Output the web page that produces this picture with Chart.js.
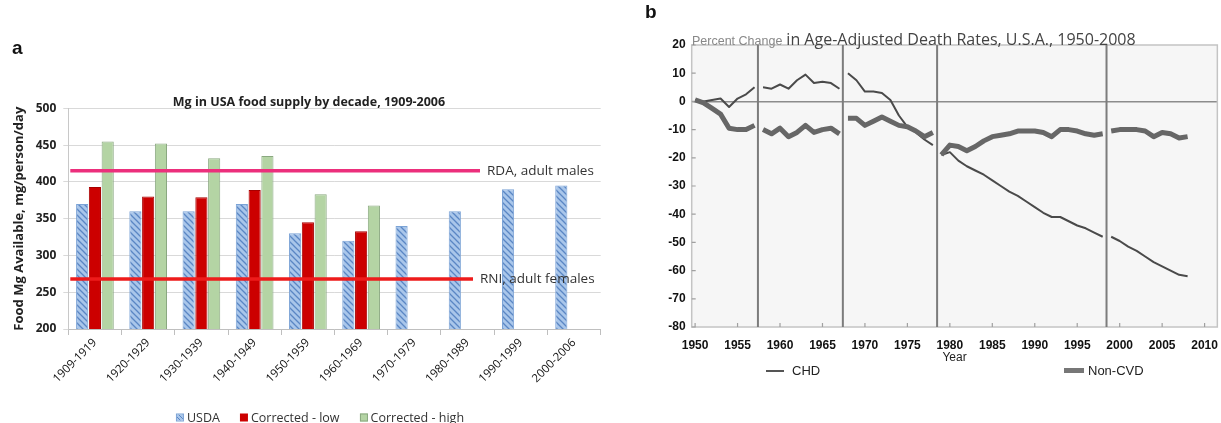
<!DOCTYPE html>
<html>
<head>
<meta charset="utf-8">
<script src="https://cdn.jsdelivr.net/npm/chart.js@4.4.1/dist/chart.umd.min.js"></script>
<style>
  html, body { margin: 0; padding: 0; background: #fff; }
  body { width: 1221px; height: 423px; position: relative; overflow: hidden; }
  canvas { position: absolute; top: 0; }
  #chartA { left: 0; }
  #chartB { left: 620px; }
  .txt { position: absolute; white-space: nowrap; line-height: 1; }
  .panel { font: bold 19px "Liberation Sans", Arial, sans-serif; color: #111; }
  #titleA { left: 309px; top: 101px; transform: translate(-50%, -50%); font: bold 12.5px "Open Sans", sans-serif; color: #222; }
  #titleB { left: 692px; top: 28px; line-height: 19px; color: #444; }
  #titleB .small { font: 12.5px "Liberation Sans", Arial, sans-serif; color: #888; }
  #titleB .big { font: 16px "Open Sans", sans-serif; }
  #legendA { left: 320px; top: 417px; transform: translate(-50%, -50%); font: 12.5px "Open Sans", sans-serif; color: #333; display: flex; align-items: center; }
  #legendA .item { display: flex; align-items: center; margin: 0 10px; }
  #legendA .sw { width: 8px; height: 8px; margin-right: 3px; box-sizing: border-box; }
  .legB { font: 13px "Liberation Sans", Arial, sans-serif; color: #222; display: flex; align-items: center; top: 363px; }
  .legB .ln { height: 0; margin-right: 8px; }
</style>
</head>
<body>
<canvas id="chartA" width="620" height="423"></canvas>
<canvas id="chartB" width="601" height="423"></canvas>

<div class="txt panel" style="left:12px; top:37px;">a</div>
<div class="txt panel" style="left:645px; top:1px;">b</div>
<div class="txt" id="titleA">Mg in USA food supply by decade, 1909-2006</div>
<div class="txt" id="titleB"><span class="small">Percent Change</span> <span class="big">in Age-Adjusted Death Rates, U.S.A., 1950-2008</span></div>

<div class="txt" id="legendA">
  <div class="item"><div class="sw" style="background: repeating-linear-gradient(45deg, #a9c6ea 0 2px, #5a86c4 2px 3px); border:1px solid #7ba3d6;"></div>USDA</div>
  <div class="item"><div class="sw" style="background:#cc0000;"></div>Corrected - low</div>
  <div class="item"><div class="sw" style="background:#b4d4a4; border:1px solid #8aa880;"></div>Corrected - high</div>
</div>

<div class="txt legB" style="left:766px;"><div class="ln" style="width:18px; border-top:2px solid #555;"></div>CHD</div>
<div class="txt legB" style="left:1064px;"><div class="ln" style="width:20px; border-top:5px solid #777; margin-right:4px;"></div>Non-CVD</div>

<script>
// ---- panel a: Mg in USA food supply ----
const decades = ['1909-1919', '1920-1929', '1930-1939', '1940-1949', '1950-1959',
                 '1960-1969', '1970-1979', '1980-1989', '1990-1999', '2000-2006'];
const usda = [370, 360, 360, 370, 330, 320, 340, 360, 390, 395];
const correctedLow = [393, 380, 379, 389, 345, 333, null, null, null, null];
const correctedHigh = [455, 452, 432, 435, 383, 368, null, null, null, null];
const rdaMales = 415;
const rniFemales = 268;

// ---- panel b: percent change in death rates ----
const years = [1950, 1951, 1952, 1953, 1954, 1955, 1956, 1957, 1958, 1959,
               1960, 1961, 1962, 1963, 1964, 1965, 1966, 1967, 1968, 1969,
               1970, 1971, 1972, 1973, 1974, 1975, 1976, 1977, 1978, 1979,
               1980, 1981, 1982, 1983, 1984, 1985, 1986, 1987, 1988, 1989,
               1990, 1991, 1992, 1993, 1994, 1995, 1996, 1997, 1998, 1999,
               2000, 2001, 2002, 2003, 2004, 2005, 2006, 2007, 2008];
const chd = [0.5, 0, 0.5, 1, -2, 1, 2.5, 5, 5, 4.5,
             6, 4.5, 7.5, 9.5, 6.5, 7, 6.5, 4.5, 10, 7.5,
             3.5, 3.5, 3, 0.5, -5, -9, -11, -13.5, -15.5, -19,
             -18, -21, -23, -24.5, -26, -28, -30, -32, -33.5, -35.5,
             -37.5, -39.5, -41, -41, -42.5, -44, -45, -46.5, -48, -48,
             -49.5, -51.5, -53, -55, -57, -58.5, -60, -61.5, -62];
const nonCvd = [0.5, -0.5, -2.5, -4.5, -9.5, -10, -10, -8.5, -10, -11.5,
                -9.5, -12.5, -11, -8.5, -11, -10, -9.5, -11.5, -6, -6,
                -8.5, -7, -5.5, -7, -8.5, -9, -10.5, -12.5, -11, -19,
                -15.5, -16, -17.5, -16, -14, -12.5, -12, -11.5, -10.5, -10.5,
                -10.5, -11, -12.5, -10, -10, -10.5, -11.5, -12, -11.5, -10.5,
                -10, -10, -10, -10.5, -12.5, -11, -11.5, -13, -12.5];
const icdBreaks = [1957.4, 1967.4, 1978.5, 1998.45];

// hatched fill for the USDA bars
function hatch() {
    const c = document.createElement('canvas');
    c.width = 6; c.height = 6;
    const g = c.getContext('2d');
    g.fillStyle = '#a9c6ea';
    g.fillRect(0, 0, 6, 6);
    g.strokeStyle = '#5a86c4';
    g.lineWidth = 1.3;
    g.beginPath();
    g.moveTo(-1, -1); g.lineTo(7, 7);
    g.moveTo(-1, 5); g.lineTo(1, 7);
    g.moveTo(5, -1); g.lineTo(7, 1);
    g.stroke();
    return g.createPattern(c, 'repeat');
}

const refLines = {
    id: 'refLines',
    afterDatasetsDraw(chart) {
        const ctx = chart.ctx;
        const y = chart.scales.y;
        const left = chart.chartArea.left + 2;
        const lines = [
            { v: rdaMales, color: '#ec2f7c', end: 480, text: 'RDA, adult males', tx: 487 },
            { v: rniFemales, color: '#ee1b1b', end: 473, text: 'RNI, adult females', tx: 480 }
        ];
        ctx.save();
        lines.forEach(l => {
            const py = y.getPixelForValue(l.v);
            ctx.strokeStyle = l.color;
            ctx.lineWidth = 3.5;
            ctx.beginPath();
            ctx.moveTo(left, py);
            ctx.lineTo(l.end, py);
            ctx.stroke();
            ctx.fillStyle = '#333';
            ctx.font = '13.5px "Open Sans", sans-serif';
            ctx.textBaseline = 'middle';
            ctx.fillText(l.text, l.tx, py);
        });
        ctx.restore();
    }
};

new Chart(document.getElementById('chartA').getContext('2d'), {
    type: 'bar',
    data: {
        labels: decades,
        datasets: [
            { label: 'USDA', data: usda, backgroundColor: hatch(), borderColor: '#7ba3d6', borderWidth: 1 },
            { label: 'Corrected - low', data: correctedLow, backgroundColor: '#cc0000', borderColor: '#a80000', borderWidth: 1 },
            { label: 'Corrected - high', data: correctedHigh, backgroundColor: '#b4d4a4', borderColor: '#8aa880', borderWidth: 1 }
        ]
    },
    options: {
        responsive: false,
        animation: false,
        categoryPercentage: 0.72,
        barPercentage: 0.95,
        layout: { padding: { left: 0, right: 19.3, top: 108.3, bottom: 34 } },
        plugins: {
            legend: { display: false },
            title: { display: false },
            tooltip: { enabled: false }
        },
        scales: {
            x: {
                afterFit: s => { s.height = 60; },
                grid: { drawOnChartArea: false, tickLength: 6, color: '#bfbfbf' },
                border: { color: '#bfbfbf' },
                ticks: {
                    autoSkip: false,
                    minRotation: 45,
                    maxRotation: 45,
                    padding: 1,
                    color: '#111',
                    font: { family: '"Open Sans", sans-serif', size: 11.5 }
                }
            },
            y: {
                min: 200,
                max: 500,
                afterFit: s => { s.width = 68.3; },
                grid: { color: '#d9d9d9', tickLength: 5 },
                border: { color: '#c8c8c8' },
                ticks: {
                    stepSize: 50,
                    padding: 7,
                    color: '#222',
                    font: { family: '"Open Sans", sans-serif', size: 12, weight: 'bold' }
                },
                title: {
                    display: true,
                    text: 'Food Mg Available, mg/person/day',
                    color: '#222',
                    padding: { top: 11, bottom: 0 },
                    font: { family: '"Open Sans", sans-serif', size: 13, weight: 'bold' }
                }
            }
        }
    },
    plugins: [refLines]
});

// panel b decorations: grey plot background, frame, break lines, inner ticks
const frameB = {
    id: 'frameB',
    beforeDraw(chart) {
        const { ctx, chartArea: a } = chart;
        ctx.save();
        ctx.fillStyle = '#f6f6f6';
        ctx.fillRect(a.left, a.top, a.right - a.left, a.bottom - a.top);
        ctx.restore();
    },
    beforeDatasetsDraw(chart) {
        const { ctx, chartArea: a, scales } = chart;
        ctx.save();
        ctx.strokeStyle = '#c4c4c4';
        ctx.lineWidth = 1.5;
        ctx.strokeRect(a.left, a.top, a.right - a.left, a.bottom - a.top);
        ctx.strokeStyle = '#a0a0a0';
        ctx.lineWidth = 1.2;
        ctx.beginPath();
        scales.x.ticks.forEach(t => {
            const px = scales.x.getPixelForValue(t.value);
            ctx.moveTo(px, a.bottom); ctx.lineTo(px, a.bottom - 4);
        });
        scales.y.ticks.forEach(t => {
            const py = scales.y.getPixelForValue(t.value);
            ctx.moveTo(a.left, py); ctx.lineTo(a.left + 4, py);
        });
        ctx.stroke();
        ctx.strokeStyle = '#7c7c7c';
        ctx.lineWidth = 2;
        ctx.beginPath();
        icdBreaks.forEach(b => {
            const px = scales.x.getPixelForValue(b);
            ctx.moveTo(px, a.top); ctx.lineTo(px, a.bottom);
        });
        ctx.stroke();
        ctx.restore();
    }
};

const brokenAt = c => icdBreaks.some(b => c.p0.parsed.x < b && c.p1.parsed.x > b);

new Chart(document.getElementById('chartB').getContext('2d'), {
    type: 'line',
    data: {
        datasets: [
            {
                label: 'Non-CVD',
                data: years.map((yr, i) => ({ x: yr, y: nonCvd[i] })),
                borderColor: '#676767',
                borderWidth: 5,
                pointRadius: 0,
                borderJoinStyle: 'round',
                segment: { borderColor: c => brokenAt(c) ? 'rgba(0,0,0,0)' : undefined }
            },
            {
                label: 'CHD',
                data: years.map((yr, i) => ({ x: yr, y: chd[i] })),
                borderColor: '#4a4a4a',
                borderWidth: 2,
                pointRadius: 0,
                borderJoinStyle: 'round',
                segment: { borderColor: c => brokenAt(c) ? 'rgba(0,0,0,0)' : undefined }
            }
        ]
    },
    options: {
        responsive: false,
        animation: false,
        layout: { padding: { left: 0, right: 2, top: 45, bottom: 58 } },
        plugins: {
            legend: { display: false },
            title: { display: false },
            tooltip: { enabled: false }
        },
        scales: {
            x: {
                type: 'linear',
                min: 1949.6,
                max: 2011.5,
                afterFit: s => { s.height = 38; },
                grid: { display: false },
                border: { display: false },
                ticks: {
                    stepSize: 5,
                    includeBounds: false,
                    padding: 3,
                    color: '#111',
                    callback: v => String(v),
                    font: { family: '"Liberation Sans", Arial, sans-serif', size: 12, weight: 'bold' }
                },
                title: {
                    display: true,
                    text: 'Year',
                    color: '#222',
                    padding: { top: 0, bottom: 0 },
                    font: { family: '"Liberation Sans", Arial, sans-serif', size: 12 }
                }
            },
            y: {
                min: -80,
                max: 20,
                afterFit: s => { s.width = 71.7; },
                grid: {
                    drawTicks: false,
                    lineWidth: 1.5,
                    color: c => c.tick && c.tick.value === 0 ? '#8c8c8c' : 'rgba(0,0,0,0)'
                },
                border: { display: false },
                ticks: {
                    stepSize: 10,
                    padding: 6,
                    color: '#111',
                    font: { family: '"Liberation Sans", Arial, sans-serif', size: 12, weight: 'bold' }
                }
            }
        }
    },
    plugins: [frameB]
});
</script>
</body>
</html>
